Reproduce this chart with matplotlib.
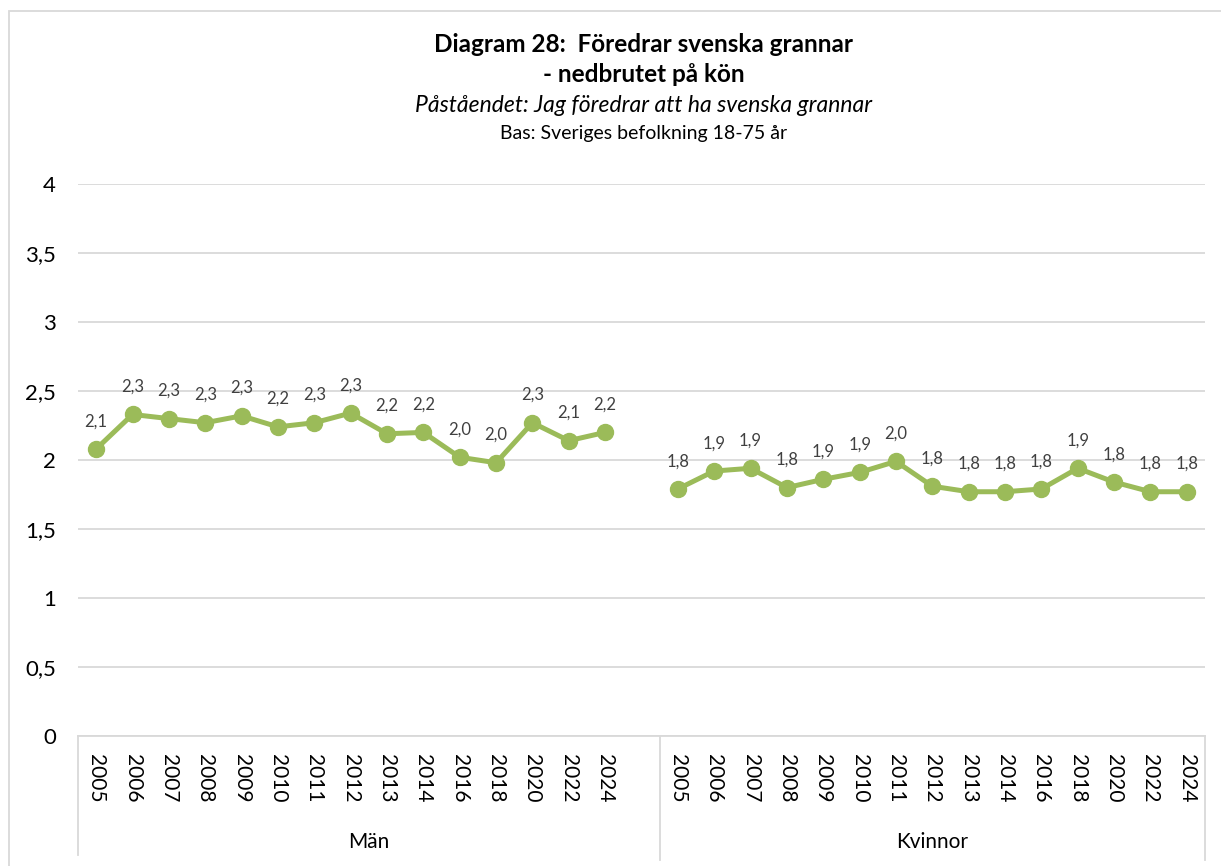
import matplotlib
matplotlib.use("Agg")
import matplotlib.pyplot as plt
from matplotlib.patches import Rectangle
import matplotlib.transforms as mtransforms

plt.rcParams['font.family'] = ['Lato', 'DejaVu Sans']

years = ["2005", "2006", "2007", "2008", "2009", "2010", "2011", "2012",
         "2013", "2014", "2016", "2018", "2020", "2022", "2024"]
groups = ["Män", "Kvinnor"]
man_values = [2.08, 2.33, 2.30, 2.27, 2.32, 2.24, 2.27, 2.34,
              2.19, 2.20, 2.02, 1.98, 2.27, 2.14, 2.20]
kvinnor_values = [1.79, 1.92, 1.94, 1.80, 1.86, 1.91, 1.99, 1.81,
                  1.77, 1.77, 1.79, 1.94, 1.84, 1.77, 1.77]
y_ticks = [0, 0.5, 1, 1.5, 2, 2.5, 3, 3.5, 4]
y_tick_labels = ["0", "0,5", "1", "1,5", "2", "2,5", "3", "3,5", "4"]

title1 = "Diagram 28:  Föredrar svenska grannar"
title2 = "- nedbrutet på kön"
subtitle = "Påståendet: Jag föredrar att ha svenska grannar"
base = "Bas: Sveriges befolkning 18-75 år"

W, H = 1221, 866
fig = plt.figure(figsize=(W / 100, H / 100), dpi=100)
ax = fig.add_axes([78 / W, 1 - 736 / H, (1205 - 78) / W, (736 - 184) / H])

green = "#9BBB59"
grid_c = "#D9D9D9"
text_c = "#404040"

n = len(years)
x_man = list(range(n))
x_kv = list(range(n + 1, 2 * n + 1))

for xs, vals in [(x_man, man_values), (x_kv, kvinnor_values)]:
    ax.plot(xs, vals, color=green, lw=3.6, marker="o", ms=11.5,
            solid_capstyle="round", zorder=3)
    for x, v in zip(xs, vals):
        ax.annotate(f"{v:.1f}".replace(".", ","), (x, v), xytext=(0, 20),
                    textcoords="offset points", ha="center", va="center",
                    fontsize=12, color=text_c)

ax.set_xlim(-0.5, 2 * n + 0.5)
ax.set_ylim(0, 4)
ax.set_yticks(y_ticks)
ax.set_yticklabels(y_tick_labels, fontsize=16, color="#000000")
ax.tick_params(axis="y", length=0, pad=16)
ax.set_xticks(x_man + x_kv)
ax.set_xticklabels(years + years, rotation=-90, fontsize=15, color="#000000")
ax.tick_params(axis="x", length=0, pad=13)
ax.grid(axis="y", color=grid_c, lw=1.3)
ax.set_axisbelow(True)
for s in ["top", "right", "left"]:
    ax.spines[s].set_visible(False)
ax.spines["bottom"].set_color(grid_c)
ax.spines["bottom"].set_linewidth(1.3)

trans = mtransforms.blended_transform_factory(ax.transData, ax.transAxes)
for xb, yb in [(-0.5, -0.216), (n + 0.5, -0.225), (2 * n + 0.5, -0.225)]:
    ax.plot([xb, xb], [0, yb], transform=trans, color=grid_c, lw=1.3,
            clip_on=False)

group_centers = [(-0.5 + n + 0.5) / 2, (n + 0.5 + 2 * n + 0.5) / 2]
for gx, g in zip(group_centers, groups):
    ax.text(gx, -0.192, g, transform=trans, ha="center", va="center",
            fontsize=15, color="#000000")

cx = 644 / W
fig.text(cx, 1 - 44 / H, title1, ha="center", va="center", fontsize=17.5,
         fontweight="bold")
fig.text(cx, 1 - 75 / H, title2, ha="center", va="center", fontsize=17.5,
         fontweight="bold")
fig.text(cx, 1 - 106 / H, subtitle, ha="center", va="center", fontsize=16.5,
         style="italic")
fig.text(cx, 1 - 133 / H, base, ha="center", va="center", fontsize=14)

fig.patches.append(Rectangle((9 / W, -0.1), 1.2, 1 - 11 / H + 0.1,
                             transform=fig.transFigure, fill=False,
                             edgecolor=grid_c, lw=1.3))

fig.savefig("out.png", dpi=100)
